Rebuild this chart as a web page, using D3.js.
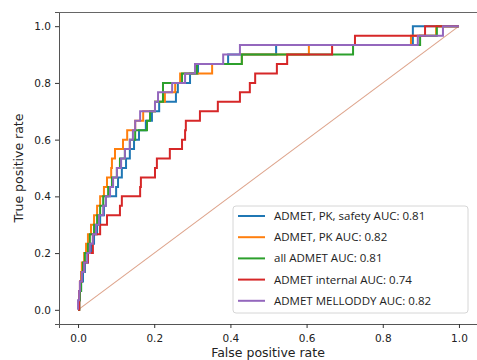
<!DOCTYPE html>
<html>
<head>
<meta charset="utf-8">
<script src="https://cdn.jsdelivr.net/npm/d3@7"></script>
<style>
  body { margin: 0; background: #fff; }
  svg { display: block; }
</style>
</head>
<body>
<svg id="chart"></svg>
<script>
// Labels for the legend
const seriesNames = [
    "ADMET, PK, safety AUC: 0.81",
    "ADMET, PK AUC: 0.82",
    "all ADMET AUC: 0.81",
    "ADMET internal AUC: 0.74",
    "ADMET MELLODDY AUC: 0.82"
];
const seriesColors = ["#1f77b4", "#ff7f0e", "#2ca02c", "#d62728", "#9467bd"];

// False positive rate at which each of the 30 positives is reached
const fprBlue = [0.003, 0.005, 0.008, 0.013, 0.018, 0.026, 0.034, 0.042, 0.050, 0.058,
    0.068, 0.073, 0.100, 0.105, 0.115, 0.126, 0.136, 0.147, 0.160, 0.178,
    0.194, 0.213, 0.257, 0.262, 0.294, 0.315, 0.394, 0.520, 0.879, 0.879];
const fprOrange = [0.003, 0.003, 0.005, 0.008, 0.010, 0.016, 0.021, 0.026, 0.034, 0.042,
    0.050, 0.058, 0.068, 0.076, 0.087, 0.089, 0.097, 0.118, 0.129, 0.150,
    0.171, 0.202, 0.228, 0.255, 0.268, 0.352, 0.430, 0.606, 0.874, 0.940];
const fprGreen = [0.003, 0.005, 0.008, 0.010, 0.013, 0.018, 0.026, 0.031, 0.042, 0.050,
    0.058, 0.066, 0.079, 0.089, 0.102, 0.110, 0.123, 0.136, 0.150, 0.181,
    0.189, 0.202, 0.223, 0.223, 0.273, 0.312, 0.430, 0.722, 0.898, 0.942];
const fprRed = [0.003, 0.003, 0.005, 0.010, 0.016, 0.026, 0.039, 0.039, 0.058, 0.076,
    0.110, 0.115, 0.163, 0.165, 0.202, 0.207, 0.241, 0.273, 0.281, 0.283,
    0.320, 0.367, 0.425, 0.451, 0.465, 0.522, 0.549, 0.667, 0.727, 0.911];
const fprPurple = [0.000, 0.003, 0.005, 0.010, 0.016, 0.024, 0.031, 0.039, 0.047, 0.055,
    0.066, 0.073, 0.084, 0.092, 0.102, 0.113, 0.123, 0.136, 0.144, 0.150,
    0.163, 0.202, 0.210, 0.247, 0.281, 0.307, 0.381, 0.425, 0.892, 0.958];

const tickValues = [0, 0.2, 0.4, 0.6, 0.8, 1.0];

const allFpr = [fprBlue, fprOrange, fprGreen, fprRed, fprPurple];

// Turn the step positions into ROC vertices
function rocPoints(fprs) {
    const n = fprs.length;
    const pts = [[0, 0]];
    fprs.forEach((f, i) => {
        pts.push([f, i / n]);
        pts.push([f, (i + 1) / n]);
    });
    pts.push([1, 1]);
    return pts;
}

const width = 477;
const height = 360;
const margin = { top: 12, right: -1, bottom: 36, left: 59 };

const svg = d3.select("#chart")
    .attr("width", width)
    .attr("height", height);

const xScale = d3.scaleLinear()
    .domain([-0.05, 1.05])
    .range([margin.left, width - margin.right]);

const yScale = d3.scaleLinear()
    .domain([-0.05, 1.05])
    .range([height - margin.bottom, margin.top]);

// Diagonal reference line
svg.append("line")
    .attr("x1", xScale(0))
    .attr("y1", yScale(0))
    .attr("x2", xScale(1))
    .attr("y2", yScale(1))
    .attr("stroke", "#dea48c")
    .attr("stroke-width", 1.1);

const line = d3.line()
    .x(d => xScale(d[0]))
    .y(d => yScale(d[1]));

allFpr.forEach((fprs, i) => {
    svg.append("path")
        .datum(rocPoints(fprs))
        .attr("d", line)
        .attr("fill", "none")
        .attr("stroke", seriesColors[i])
        .attr("stroke-width", 2)
        .attr("stroke-linejoin", "miter");
});

// Axes
const xAxis = svg.append("g")
    .attr("transform", `translate(0,${height - margin.bottom})`)
    .call(d3.axisBottom(xScale).tickValues(tickValues).tickFormat(d3.format(".1f")).tickSizeOuter(0).tickSize(4).tickPadding(7));

const yAxis = svg.append("g")
    .attr("transform", `translate(${margin.left},0)`)
    .call(d3.axisLeft(yScale).tickValues(tickValues).tickFormat(d3.format(".1f")).tickSizeOuter(0).tickSize(4).tickPadding(4));

[xAxis, yAxis].forEach(g => {
    g.selectAll("text")
        .attr("fill", "#222")
        .style("font-family", "DejaVu Sans")
        .style("font-size", "10.5px");
    g.selectAll("line").attr("stroke", "#333");
    g.select(".domain").attr("stroke", "#555");
});

// Top spine
svg.append("line")
    .attr("x1", margin.left)
    .attr("x2", width)
    .attr("y1", margin.top + 0.5)
    .attr("y2", margin.top + 0.5)
    .attr("stroke", "#666");

svg.append("text")
    .attr("x", (margin.left + width) / 2)
    .attr("y", 357)
    .attr("text-anchor", "middle")
    .attr("fill", "#222")
    .style("font-family", "DejaVu Sans")
    .style("font-size", "12.5px")
    .text("False positive rate");

svg.append("text")
    .attr("transform", `translate(23,${yScale(0.5)}) rotate(-90)`)
    .attr("text-anchor", "middle")
    .attr("fill", "#222")
    .style("font-family", "DejaVu Sans")
    .style("font-size", "12.5px")
    .text("True positive rate");

// Legend
const legend = svg.append("g").attr("transform", "translate(233,206)");
legend.append("rect")
    .attr("width", 235)
    .attr("height", 107)
    .attr("rx", 3)
    .attr("fill", "#fff")
    .attr("stroke", "#d6d6d6");

seriesNames.forEach((name, i) => {
    const y = 10 + i * 21.2;
    legend.append("line")
        .attr("x1", 5)
        .attr("x2", 32)
        .attr("y1", y)
        .attr("y2", y)
        .attr("stroke", seriesColors[i])
        .attr("stroke-width", 2);
    legend.append("text")
        .attr("x", 41)
        .attr("y", y + 4)
        .attr("fill", "#222")
        .style("font-family", "Open Sans")
        .style("font-size", "11.5px")
        .text(name);
});
</script>
</body>
</html>
